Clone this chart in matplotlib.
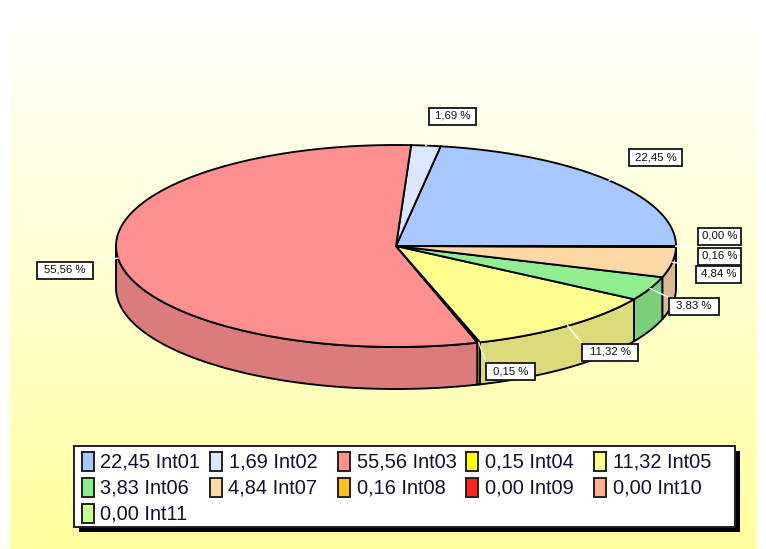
import numpy as np
import matplotlib
matplotlib.use("Agg")
import matplotlib.pyplot as plt
from matplotlib.patches import Polygon, Rectangle
from matplotlib.colors import LinearSegmentedColormap

values = [22.45, 1.69, 55.56, 0.15, 11.32, 3.83, 4.84, 0.16, 0.00, 0.00, 0.00]
names = ["Int01", "Int02", "Int03", "Int04", "Int05", "Int06", "Int07", "Int08", "Int09", "Int10", "Int11"]
value_labels = ["22,45", "1,69", "55,56", "0,15", "11,32", "3,83", "4,84", "0,16", "0,00", "0,00", "0,00"]
colors = ["#A8C8FF", "#DCE6FF", "#FF9090", "#FFFF00", "#FFFF90", "#90EE90", "#FFD8A8", "#FFC020", "#FF2020", "#FFB090", "#C8FF90"]
shown_labels = ["22,45 %", "1,69 %", "55,56 %", "0,15 %", "11,32 %", "3,83 %", "4,84 %", "0,16 %", "0,00 %"]
label_boxes = [(629, 682, 157), (429, 476, 116), (37, 93, 270), (486, 535, 371), (582, 638, 352),
               (669, 719, 306), (696, 741, 274), (698, 741, 256), (698, 741, 236)]

W, H = 766, 549
CX, CY, RX, RY, DEPTH = 396, 246, 280, 101, 42

fig = plt.figure(figsize=(W / 100, H / 100), dpi=100)
ax = fig.add_axes([0, 0, 1, 1])
ax.axis("off")
fig.patch.set_facecolor("white")

cmap = LinearSegmentedColormap.from_list("bg", ["#FFFFFF", "#FFFFA0"])
grad = np.linspace(0, 1, 256).reshape(-1, 1)
ax.imshow(grad, extent=(10, 757, 549, 15), cmap=cmap, aspect="auto", zorder=0)
ax.set_xlim(0, W)
ax.set_ylim(H, 0)


def rim(a0, a1, n=120):
    t = np.radians(np.linspace(a0, a1, n))
    return CX + RX * np.cos(t), CY - RY * np.sin(t)


def darker(c, f=0.86):
    rgb = np.array(matplotlib.colors.to_rgb(c))
    return tuple(rgb * f)


angles = np.cumsum([0] + values)
angles = angles / angles[-1] * 360
LW = 1.35

order = sorted(range(len(values)), key=lambda i: -abs(((angles[i] + angles[i + 1]) / 2) - 270))
for i in order:
    lo, hi = max(angles[i], 180), min(angles[i + 1], 360)
    if hi <= lo:
        continue
    x, y = rim(lo, hi)
    xs = np.r_[x, x[::-1]]
    ys = np.r_[y, y[::-1] + DEPTH]
    ax.add_patch(Polygon(np.c_[xs, ys], closed=True, fc=darker(colors[i]), ec="black", lw=LW, zorder=2))

for i in range(len(values)):
    x, y = rim(angles[i], angles[i + 1])
    ax.add_patch(Polygon(np.c_[np.r_[CX, x], np.r_[CY, y]], closed=True, fc=colors[i], ec="black", lw=LW, zorder=3))

for i, text in enumerate(shown_labels):
    mid = (angles[i] + angles[i + 1]) / 2
    px, py = rim(mid, mid, 1)
    x0, x1, yc = label_boxes[i]
    y0, y1 = yc - 8.5, yc + 8.5
    nx, ny = np.clip(px[0], x0, x1), np.clip(py[0], y0, y1)
    ax.plot([px[0], nx], [py[0], ny], color="white", lw=1.0, zorder=4)
    ax.add_patch(Rectangle((x0, y0), x1 - x0, y1 - y0, fc="white", ec="#151515", lw=1.3, zorder=5))
    ax.text((x0 + x1) / 2, yc, text, ha="center", va="center", fontsize=8.2, family="Liberation Sans",
            color="#101010", zorder=6)

ax.add_patch(Rectangle((79, 451), 661, 81, fc="black", ec="none", zorder=7))
ax.add_patch(Rectangle((74, 446), 661, 81, fc="white", ec="#202020", lw=1.4, zorder=8))
col_swatch = [81.5, 209.5, 337.7, 466, 594]
col_text = [[100, 229, 357, 485, 613], [100, 228, 357, 485, 613], [100]]
row_top = [452, 478, 504]
for i in range(len(values)):
    r, c = i // 5, i % 5
    ax.add_patch(Rectangle((col_swatch[c], row_top[r]), 12, 19, fc=colors[i], ec="#202020", lw=1.4, zorder=9))
    ax.text(col_text[r][c], row_top[r] + 10, f"{value_labels[i]} {names[i]}", ha="left", va="center",
            fontsize=14.4, family="Liberation Sans", color="#101030", zorder=9)

fig.savefig("out.png", dpi=100)
